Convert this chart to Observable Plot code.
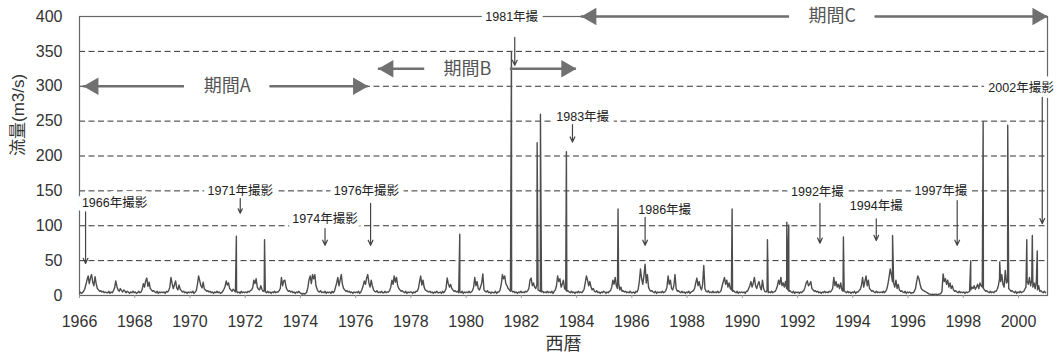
<!DOCTYPE html>
<html>
<head>
<meta charset="utf-8">
<script src="https://cdn.jsdelivr.net/npm/d3@7"></script>
<script src="https://cdn.jsdelivr.net/npm/@observablehq/plot@0.6"></script>
<style>
  body { margin: 0; background: #fff; }
</style>
</head>
<body>
<div id="chart"></div>
<script>
// Observed discharge, half-month readings per year (m3/s)
const flowYears = [1966, 1967, 1968, 1969, 1970, 1971, 1972, 1973, 1974, 1975,
  1976, 1977, 1978, 1979, 1980, 1981, 1982, 1983, 1984, 1985,
  1986, 1987, 1988, 1989, 1990, 1991, 1992, 1993, 1994, 1995,
  1996, 1997, 1998, 1999, 2000];

const semiMonthlyFlow = [
  [5,3,4,6,9,15,22,28,17,25,30,19,14,27,17,10,8,6,7,5,6,4,5,4],
  [4,6,3,5,4,7,11,21,13,8,6,10,7,5,8,6,4,6,5,3,5,4,6,4],
  [5,3,4,6,4,5,9,17,12,21,25,13,19,10,8,6,7,5,4,6,3,5,4,5],
  [4,5,3,6,5,7,12,26,17,10,15,21,11,8,15,9,7,5,6,4,5,3,5,4],
  [5,4,6,3,5,7,16,28,21,14,11,19,9,8,6,7,5,6,4,5,3,5,4,6],
  [4,5,3,4,6,9,13,21,15,18,10,8,6,9,7,5,6,4,5,3,6,4,5,4],
  [5,4,6,5,7,8,11,22,17,24,12,9,8,14,9,6,7,5,4,6,4,5,3,5],
  [4,6,4,5,5,7,10,26,14,21,22,12,8,6,7,5,6,4,5,3,5,4,6,4],
  [3,2,3,2,3,5,12,23,28,17,30,24,30,14,9,6,5,7,4,5,4,6,3,5],
  [4,5,3,6,4,6,12,18,26,14,22,30,16,10,8,6,7,5,6,4,5,3,5,4],
  [5,4,6,3,5,9,14,21,16,25,30,18,12,22,14,8,6,5,7,4,5,4,6,4],
  [4,6,4,5,5,7,12,22,16,28,19,26,14,10,8,6,7,5,4,6,3,5,4,5],
  [5,3,5,4,6,6,10,20,28,15,22,12,8,7,6,5,6,4,5,3,5,4,6,4],
  [4,5,3,6,4,6,10,25,17,12,16,10,8,6,7,5,6,4,5,4,6,3,5,4],
  [5,4,6,4,5,7,12,26,14,20,10,8,12,18,31,8,6,5,7,4,5,3,5,4],
  [4,6,3,5,5,8,16,30,24,28,17,14,10,8,6,7,5,6,4,5,3,5,4,6],
  [4,5,4,6,5,7,10,22,25,14,18,12,10,16,8,7,6,5,6,4,5,4,6,4],
  [5,4,6,3,6,8,14,28,20,24,12,16,22,10,8,6,7,5,4,6,4,5,3,5],
  [4,6,4,5,4,6,9,18,28,22,14,20,12,8,10,6,5,7,4,5,3,5,4,6],
  [5,3,5,4,6,7,12,22,16,26,14,10,18,8,12,6,7,5,6,4,5,4,6,4],
  [4,5,3,6,5,9,20,38,24,16,28,45,18,30,12,8,6,7,5,4,6,3,5,4],
  [5,4,6,4,5,7,12,28,16,22,10,8,14,30,10,6,7,5,4,6,4,5,3,5],
  [4,6,3,5,6,7,10,18,25,14,20,12,8,16,43,10,6,5,7,4,5,4,6,4],
  [5,4,6,4,5,7,14,20,26,16,22,12,18,10,8,6,7,5,4,6,3,5,4,5],
  [4,5,3,6,6,10,14,20,12,18,26,14,10,16,20,12,8,22,10,6,5,7,4,5],
  [4,6,4,5,6,9,14,22,16,26,14,18,12,20,10,8,6,7,5,4,6,3,5,4],
  [5,3,5,4,6,7,12,18,21,14,16,20,10,8,6,7,5,6,4,5,3,5,4,6],
  [4,5,4,6,5,7,10,26,14,20,12,16,10,18,8,6,7,5,4,6,4,5,3,5],
  [4,6,3,5,5,7,9,14,26,12,20,28,14,22,10,8,6,7,5,4,6,4,5,4],
  [5,4,6,4,6,9,16,26,38,30,20,18,12,22,10,16,8,6,7,5,4,6,3,5],
  [4,5,3,4,4,6,10,20,28,24,16,10,8,7,6,5,4,3,2,2,1,2,1,2],
  [2,1,2,2,3,6,31,20,24,16,22,12,18,10,14,8,6,7,5,4,6,4,5,4],
  [5,3,5,4,5,6,8,12,10,14,9,12,16,10,18,14,12,10,8,6,7,5,4,6],
  [4,5,4,6,6,9,14,24,20,30,16,12,36,18,20,10,8,6,7,5,4,6,3,5],
  [4,6,4,5,6,9,12,20,16,26,14,22,12,18,10,20,8,14,6,7,5,4,6,4]
];

// Flood peaks (decimal year, m3/s)
const peakDates = [1971.68, 1972.70, 1979.77, 1981.64, 1982.57, 1982.69, 1983.63,
  1985.50, 1989.63, 1990.91, 1991.61, 1991.68, 1993.66, 1995.44,
  1998.27, 1998.72, 1999.32, 1999.61, 2000.30, 2000.50, 2000.68];
const peakFlows = [85, 80, 88, 350, 219, 260, 206,
  124, 124, 80, 105, 101, 84, 86,
  50, 249, 48, 244, 80, 86, 64];

// Aerial photo years: label anchor and pointer
const photoLabels = [
  {text: "1966年撮影", year: 1967.27, flow: 133},
  {text: "1971年撮影", year: 1971.82, flow: 150},
  {text: "1974年撮影", year: 1974.89, flow: 110},
  {text: "1976年撮影", year: 1976.39, flow: 150},
  {text: "1981年撮", year: 1981.65, flow: 400},
  {text: "1983年撮", year: 1984.22, flow: 256},
  {text: "1986年撮", year: 1987.19, flow: 123},
  {text: "1992年撮", year: 1992.72, flow: 148},
  {text: "1994年撮", year: 1994.85, flow: 128},
  {text: "1997年撮", year: 1997.19, flow: 150},
  {text: "2002年撮影", year: 2000.09, flow: 297}
];
const photoArrows = [
  {year: 1966.22, from: 120, to: 46},
  {year: 1971.82, from: 139, to: 118},
  {year: 1974.89, from: 96, to: 72},
  {year: 1976.54, from: 132, to: 72},
  {year: 1981.76, from: 370, to: 330},
  {year: 1983.85, from: 245, to: 220},
  {year: 1986.48, from: 112, to: 72},
  {year: 1992.81, from: 132, to: 75},
  {year: 1994.85, from: 110, to: 79},
  {year: 1997.78, from: 136, to: 72},
  {year: 2000.86, from: 284, to: 103}
];

// Study periods
const periods = [
  {name: "期間A", start: 1966.14, end: 1976.45, mid: 1971.35, flow: 300},
  {name: "期間B", start: 1976.82, end: 1983.99, mid: 1980.05, flow: 325},
  {name: "期間C", start: 1984.17, end: 2001.05, mid: 1993.26, flow: 400}
];

const xTicks = [1966, 1968, 1970, 1972, 1974, 1976, 1978, 1980, 1982, 1984,
  1986, 1988, 1990, 1992, 1994, 1996, 1998, 2000];
const yTicks = [0, 50, 100, 150, 200, 250, 300, 350, 400];
const gridLevels = [50, 100, 150, 200, 250, 300, 350];

const series = flowYears
  .flatMap((yr, k) => semiMonthlyFlow[k].map((v, i) => ({date: yr + (i + 0.5) / 24, flow: v})))
  .concat(peakDates.map((d, i) => ({date: d, flow: peakFlows[i]})))
  .sort((a, b) => a.date - b.date);

const gap = 1.55; // half-width of the label gap in a period arrow, in years
const fontStack = "'Liberation Sans', 'Noto Sans CJK JP', sans-serif";

const chart = Plot.plot({
  width: 1060,
  height: 360,
  marginLeft: 79,
  marginRight: 13,
  marginTop: 16,
  marginBottom: 65,
  style: {fontFamily: fontStack, fontSize: "16px", color: "#333", background: "#fff"},
  x: {domain: [1966, 2001.05]},
  y: {domain: [0, 400]},
  marks: [
    Plot.ruleY(gridLevels, {stroke: "#333", strokeWidth: 1, strokeDasharray: "6,3.5"}),
    Plot.frame({stroke: "#666", strokeWidth: 1.2}),
    Plot.axisX({ticks: xTicks, tickFormat: "d", tickSize: 3, tickPadding: 17, stroke: "#999", fontSize: 16, label: null}),
    Plot.axisY({ticks: yTicks, tickSize: 0, tickPadding: 17, fontSize: 16, label: null}),
    Plot.line(series, {x: "date", y: "flow", stroke: "#4d4d4d", strokeWidth: 1.4, strokeLinejoin: "round"}),
    // period arrows with a gap around the name
    Plot.ruleY(periods, {y: "flow", x1: d => d.mid - gap, x2: d => d.mid + gap, stroke: "white", strokeWidth: 5}),
    Plot.ruleY(periods, {y: "flow", x1: "start", x2: d => d.mid - gap, stroke: "#707070", strokeWidth: 2.5}),
    Plot.ruleY(periods, {y: "flow", x1: d => d.mid + gap, x2: "end", stroke: "#707070", strokeWidth: 2.5}),
    Plot.dot(periods, {x: "start", y: "flow", symbol: "triangle", r: 6.5, rotate: -90, dx: 10, fill: "#707070", stroke: "none"}),
    Plot.dot(periods, {x: "end", y: "flow", symbol: "triangle", r: 6.5, rotate: 90, dx: -10, fill: "#707070", stroke: "none"}),
    Plot.text(periods, {x: "mid", y: "flow", text: "name", fontSize: 18, fill: "#555", fontFamily: "'Noto Sans CJK JP', sans-serif"}),
    // photo annotations
    Plot.text(photoLabels, {x: "year", y: "flow", text: "text", fontSize: 12.5, fill: "#222",
      stroke: "white", strokeWidth: 10, paintOrder: "stroke", strokeLinejoin: "round"}),
    Plot.arrow(photoArrows, {x: "year", y1: "from", y2: "to", stroke: "#444", strokeWidth: 1.2, headLength: 7, headAngle: 50}),
    // axis titles
    Plot.text(["西暦"], {frameAnchor: "bottom", dy: 54, text: d => d, fontSize: 18, fill: "#333"}),
    Plot.text(["流量(m3/s)"], {frameAnchor: "left", dx: -61, rotate: -90, text: d => d, fontSize: 17, fill: "#333"})
  ]
});

document.getElementById("chart").appendChild(chart);
</script>
</body>
</html>
